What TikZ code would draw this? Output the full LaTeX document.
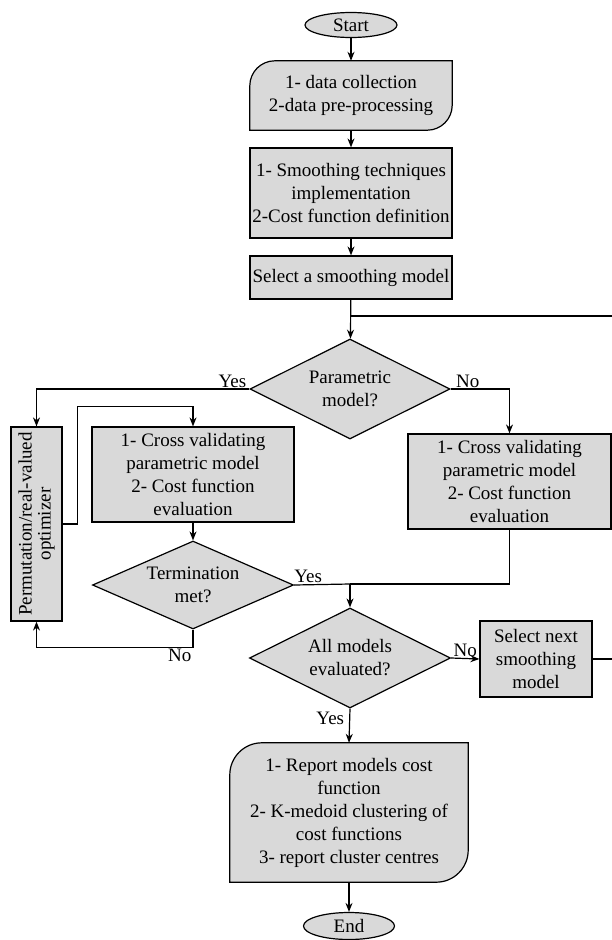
\documentclass[tikz,border=0pt]{standalone}
\usepackage{fontspec}
\setmainfont{Liberation Serif}
\newfontfamily\fmain{Liberation Serif}
\usetikzlibrary{shapes.geometric,arrows.meta,calc,backgrounds}
\definecolor{boxgray}{RGB}{217,217,217}
\newcommand\hookbox[2]{%
 \draw[shapeline] (#1.south west) -- ($(#1.north west)+(0,#2)$)
   .. controls ($(#1.north west)+(0,0.448*#2)$) and ($(#1.north west)+(0.448*#2,0)$) .. ($(#1.north west)+(#2,0)$)
   -- (#1.north east) -- ($(#1.south east)+(0,-#2)$)
   .. controls ($(#1.south east)+(0,-0.448*#2)$) and ($(#1.south east)+(-0.448*#2,0)$) .. ($(#1.south east)+(-#2,0)$)
   -- cycle;}
\begin{document}
\begin{tikzpicture}[x=1pt,y=-1pt,
 every node/.style={font=\fmain\fontsize{19}{23}\selectfont, align=center, inner sep=0pt},
 line/.style={line width=1.2pt},
 arr/.style={line width=1.2pt, -{Stealth[length=9pt,width=7pt]}},
 shapeline/.style={draw, line width=1.2pt, fill=boxgray},
 procbox/.style={shapeline, rectangle},
 plainbox/.style={rectangle},
 decision/.style={shapeline, diamond, aspect=2},
 terminal/.style={shapeline, ellipse},
 lbl/.style={inner sep=1pt}]
\useasboundingbox (0,0) rectangle (612,940);

% nodes
\node[terminal, minimum width=92pt, minimum height=25pt] (start) at (351,25) {Start};
\node[plainbox, minimum width=202pt, minimum height=69pt] (data) at (351,95.5) {1- data collection\\2-data pre-processing};
\node[procbox, minimum width=202pt, minimum height=90pt] (smooth) at (351,193) {1- Smoothing techniques\\implementation\\2-Cost function definition};
\node[procbox, minimum width=202pt, minimum height=43pt] (select) at (351,277.5) {Select a smoothing model};
\node[decision, minimum width=200pt, minimum height=100pt] (param) at (350,389) {Parametric\\model?};
\node[procbox, minimum width=51pt, minimum height=194pt] (opt) at (36.5,524)
  {\rotatebox{90}{\begin{tabular}{@{}c@{}}Permutation/real-valued\\[-4pt]optimizer\end{tabular}}};
\node[procbox, minimum width=202pt, minimum height=95pt] (cv1) at (193,474.5) {1- Cross validating\\parametric model\\2- Cost function\\evaluation};
\node[decision, minimum width=201pt, minimum height=88pt] (term) at (193,585) {Termination\\met?};
\node[procbox, minimum width=203pt, minimum height=95pt] (cv2) at (509.5,481.5) {1- Cross validating\\parametric model\\2- Cost function\\evaluation};
\node[decision, minimum width=201pt, minimum height=100pt] (all) at (350,658) {All models\\evaluated?};
\node[procbox, minimum width=112pt, minimum height=76pt] (next) at (536,659) {Select next\\smoothing\\model};
\node[plainbox, minimum width=238pt, minimum height=139pt] (report) at (349,812.5) {1- Report models cost\\function\\2- K-medoid clustering of\\cost functions\\3- report cluster centres};
\node[terminal, minimum width=91pt, minimum height=27pt] (end) at (349,926) {End};

\begin{scope}[on background layer]
\hookbox{data}{25}
\hookbox{report}{32}
\end{scope}

% coordinates
\coordinate (jtop) at (350,316);
\coordinate (rtop) at (614,316);
\coordinate (merge) at (350,584);

% connectors
\draw[arr] (start) -- (data);
\draw[arr] (data) -- (smooth);
\draw[arr] (smooth) -- (select);
\draw[arr] (select) -- (param);
\draw[arr] (param.west) -| node[lbl, pos=0.04, above] {Yes} (opt.north);
\draw[arr] (opt.east) -- ++(15,0) |- ($(cv1.north)+(0,-20)$) -- (cv1.north);
\draw[arr] (cv1) -- (term);
\draw[arr] (term.south) -- ++(0,18) node[lbl, anchor=north east] {No} -| (opt.south);
\draw[line] (term.east) -- node[lbl, pos=0.25, above] {Yes} (merge);
\draw[arr] (param.east) -| node[lbl, pos=0.05, above right, xshift=-2pt] {No} (cv2.north);
\draw[line] (cv2.south) |- (merge);
\draw[arr] (merge) -- (all.north);
\draw[arr] (all.east) -- node[lbl, pos=0.5, above] {No} (next.west);
\draw[arr] (all.south) -- node[lbl, pos=0.3, left, xshift=-4pt] {Yes} (report.north);
\draw[arr] (report.south) -- (end.north);
\draw[line] (next.east) -| (rtop) -- (jtop);
\end{tikzpicture}
\end{document}
